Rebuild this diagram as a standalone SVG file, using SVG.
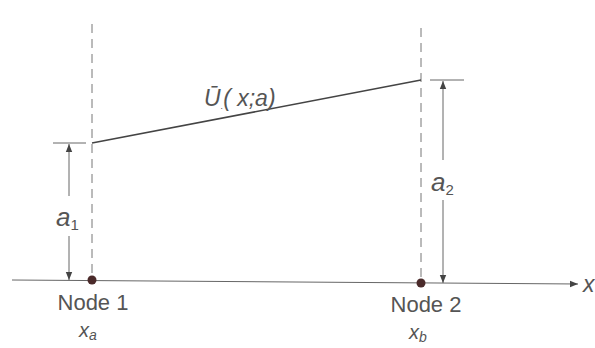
<svg xmlns="http://www.w3.org/2000/svg" width="595" height="348" viewBox="0 0 595 348">
<defs>
<marker id="ah" viewBox="0 0 10 10" refX="10" refY="5" markerWidth="8" markerHeight="8" markerUnits="userSpaceOnUse" orient="auto-start-reverse"><path d="M0,1 L10,5 L0,9 Z" fill="#444"/></marker>
</defs>
<style>
.t{font-family:"Liberation Sans",Arial,sans-serif;fill:#555;}
.dash{stroke:#777;stroke-width:1;stroke-dasharray:9,6;fill:none;}
.thin{stroke:#666;stroke-width:1;fill:none;}
</style>
<rect width="595" height="348" fill="#fff"/>
<g id="connectors">
<line class="thin" x1="12" y1="280" x2="578" y2="284" marker-end="url(#ah)"/>
<line class="dash" x1="92" y1="24" x2="92" y2="280"/>
<line class="dash" x1="421" y1="28" x2="421" y2="283"/>
<line x1="92" y1="143" x2="421" y2="80" stroke="#444" stroke-width="1.6"/>
<line class="thin" x1="53" y1="143" x2="86" y2="143"/>
<line class="thin" x1="69" y1="144" x2="69" y2="196" marker-start="url(#ah)"/>
<line class="thin" x1="69" y1="236" x2="69" y2="280" marker-end="url(#ah)"/>
<line class="thin" x1="430" y1="80" x2="464" y2="80"/>
<line class="thin" x1="443" y1="81" x2="443" y2="160" marker-start="url(#ah)"/>
<line class="thin" x1="443" y1="200" x2="443" y2="283" marker-end="url(#ah)"/>
</g>
<g id="node1">
<circle cx="92" cy="280" r="4.5" fill="#4a2a2a"/>
<text class="t" x="93" y="310" font-size="22" text-anchor="middle">Node 1</text>
<text class="t" x="79" y="337" font-size="20" font-style="italic">x<tspan font-size="14" dy="3">a</tspan></text>
</g>
<g id="node2">
<circle cx="421" cy="283" r="4.5" fill="#4a2a2a"/>
<text class="t" x="426" y="312" font-size="22" text-anchor="middle">Node 2</text>
<text class="t" x="409" y="339" font-size="20" font-style="italic">x<tspan font-size="14" dy="3">b</tspan></text>
</g>
<g id="labels">
<text class="t" x="204" y="106" font-size="23" font-style="italic">Ū<tspan font-size="9" dy="3">.</tspan><tspan dy="-3">(</tspan> x;a)</text>
<text class="t" x="56" y="226" font-size="26" font-style="italic">a<tspan font-size="15" dy="4" font-style="normal">1</tspan></text>
<text class="t" x="431" y="191" font-size="26" font-style="italic">a<tspan font-size="15" dy="4" font-style="normal">2</tspan></text>
<text class="t" x="583" y="292" font-size="23" font-style="italic">x</text>
</g>
</svg>
